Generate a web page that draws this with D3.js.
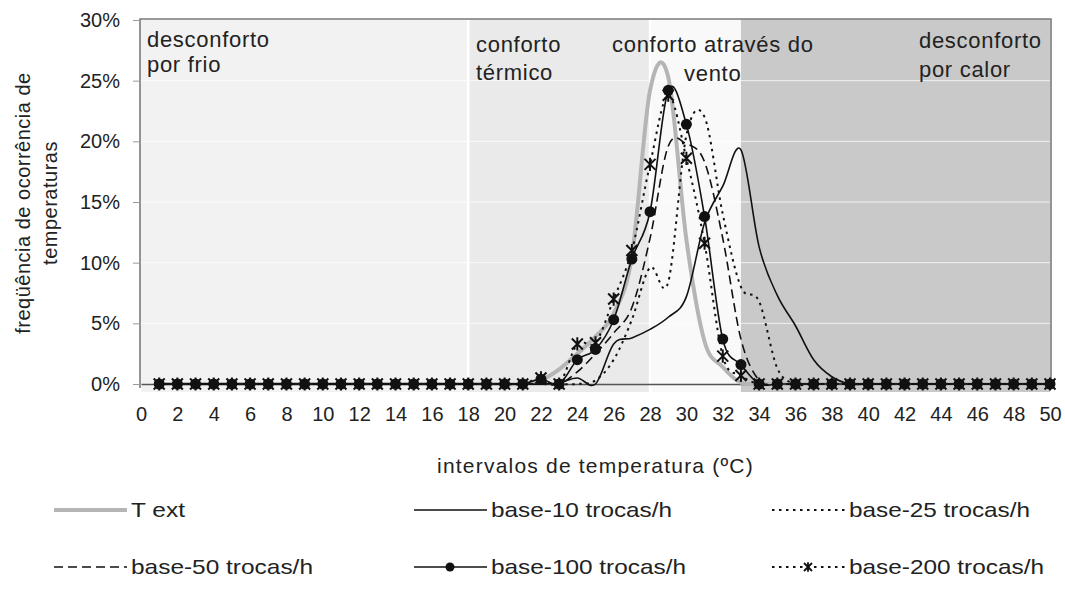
<!DOCTYPE html>
<html>
<head>
<meta charset="utf-8">
<script src="https://cdn.jsdelivr.net/npm/d3@7"></script>
<style>
  html, body { margin: 0; padding: 0; background: #fff; }
  svg { display: block; font-family: "Liberation Sans", Arial, sans-serif; }
</style>
</head>
<body>
<svg id="chart" width="1065" height="606"></svg>
<script>
// Temperature classes (ºC)
const temps = [1,2,3,4,5,6,7,8,9,10,11,12,13,14,15,16,17,18,19,20,21,22,23,24,25,
               26,27,28,29,30,31,32,33,34,35,36,37,38,39,40,41,42,43,44,45,46,47,48,49,50];

// Frequency of occurrence (%) per temperature class
const tExt    = [0,0,0,0,0,0,0,0,0,0,0,0,0,0,0,0,0,0,0,0,0,0.3,1.2,2.5,3.9,
                 5.8,10.5,24.2,25.3,11.9,3.5,1.4,0.1,0,0,0,0,0,0,0,0,0,0,0,0,0,0,0,0,0];
const base10  = [0,0,0,0,0,0,0,0,0,0,0,0,0,0,0,0,0,0,0,0,0,0,0.1,0.5,0,
                 3.3,3.8,4.5,5.5,7.2,13.3,16.3,19.3,11.3,7.3,4.8,2.0,0.6,0,0,0,0,0,0,0,0,0,0,0,0];
const base25  = [0,0,0,0,0,0,0,0,0,0,0,0,0,0,0,0,0,0,0,0,0,0,0,0,0.3,
                 2.0,5.3,9.6,8.4,20.5,22.0,14.0,8.0,6.8,1.3,0,0,0,0,0,0,0,0,0,0,0,0,0,0,0];
const base50  = [0,0,0,0,0,0,0,0,0,0,0,0,0,0,0,0,0,0,0,0,0,0,0,1.0,2.5,
                 4.2,6.3,12.0,19.6,19.8,18.3,12.0,3.7,0.3,0,0,0,0,0,0,0,0,0,0,0,0,0,0,0,0];
const base100 = [0,0,0,0,0,0,0,0,0,0,0,0,0,0,0,0,0,0,0,0,0,0.4,0,2.0,2.85,
                 5.3,10.3,14.2,24.2,21.4,13.8,3.7,1.6,0,0,0,0,0,0,0,0,0,0,0,0,0,0,0,0,0];
const base200 = [0,0,0,0,0,0,0,0,0,0,0,0,0,0,0,0,0,0,0,0,0,0.5,0,3.3,3.4,
                 7.0,11.0,18.1,23.8,18.6,11.6,2.3,0.7,0,0,0,0,0,0,0,0,0,0,0,0,0,0,0,0,0];

const seriesNames = ["T ext", "base-10 trocas/h", "base-25 trocas/h",
                     "base-50 trocas/h", "base-100 trocas/h", "base-200 trocas/h"];

// Comfort zones along the temperature axis
const zoneNames  = [["desconforto", "por frio"], ["conforto", "térmico"],
                    ["conforto através do", "vento"], ["desconforto", "por calor"]];
const zoneLimits = [[0, 18], [18, 28], [28, 33], [33, 50]];

const xTicks = [0,2,4,6,8,10,12,14,16,18,20,22,24,26,28,30,32,34,36,38,40,42,44,46,48,50];
const yTicks = [0, 0.05, 0.10, 0.15, 0.20, 0.25, 0.30];

const xTitle = "intervalos de temperatura (ºC)";
const yTitle = ["freqüência de ocorrência de", "temperaturas"];

// ---------------------------------------------------------------------------
const svg = d3.select("#chart");
const plot = { left: 141, right: 1050, top: 20, bottom: 384 };

const x = d3.scaleLinear().domain([0, 50]).range([plot.left, plot.right]);
const y = d3.scaleLinear().domain([0, 0.30]).range([plot.bottom, plot.top]);

const zoneFill = ["#f2f2f2", "#eaeaea", "#f9f9f9", "#c9c9c9"];

// zone backgrounds
svg.append("g").selectAll("rect").data(zoneLimits).join("rect")
  .attr("x", d => x(d[0]))
  .attr("y", plot.top - 1)
  .attr("width", d => x(d[1]) - x(d[0]))
  .attr("height", plot.bottom - plot.top + 9)
  .attr("fill", (d, i) => zoneFill[i]);

// light separators between the left zones
svg.append("g").selectAll("line").data([18, 28]).join("line")
  .attr("x1", d => x(d)).attr("x2", d => x(d))
  .attr("y1", plot.top).attr("y2", plot.bottom + 8)
  .attr("stroke", "#ffffff").attr("stroke-width", 2.5);

// horizontal grid
svg.append("g").selectAll("line").data(yTicks.slice(1, -1)).join("line")
  .attr("x1", plot.left).attr("x2", plot.right)
  .attr("y1", d => y(d)).attr("y2", d => y(d))
  .attr("stroke", "#ffffff").attr("stroke-opacity", 0.75).attr("stroke-width", 1);

// frame
svg.append("path")
  .attr("d", `M${plot.left - 1},${plot.bottom + 4}V${plot.top - 1}H${plot.right + 1}V${plot.bottom + 4}`)
  .attr("fill", "none").attr("stroke", "#7a7a7a").attr("stroke-width", 1.6);

// y axis
const yAxis = svg.append("g").attr("transform", `translate(${plot.left - 1},0)`)
  .call(d3.axisLeft(y).tickValues(yTicks).tickFormat(d3.format(".0%")).tickSize(7).tickPadding(13));
yAxis.select(".domain").remove();
yAxis.selectAll(".tick line").attr("stroke", "#9a9a9a");
yAxis.selectAll(".tick text").attr("font-size", 20).attr("fill", "#222")
  .attr("font-family", "Liberation Sans, Arial, sans-serif");

// x axis
const xAxis = svg.append("g").attr("transform", `translate(0,${plot.bottom})`)
  .call(d3.axisBottom(x).tickValues(xTicks).tickSize(0).tickPadding(23));
xAxis.select(".domain").attr("stroke", "#555").attr("stroke-width", 1.5);
xAxis.selectAll(".tick text").attr("font-size", 20).attr("fill", "#222")
  .attr("font-family", "Liberation Sans, Arial, sans-serif");

// axis titles
svg.append("text")
  .attr("x", (plot.left + plot.right) / 2).attr("y", 473)
  .attr("text-anchor", "middle").attr("font-size", 21).attr("fill", "#222")
  .attr("letter-spacing", 1.2)
  .text(xTitle);

svg.append("g").attr("transform", "translate(30,203) rotate(-90)")
  .selectAll("text").data(yTitle).join("text")
  .attr("x", 0).attr("y", (d, i) => i * 27)
  .attr("text-anchor", "middle").attr("font-size", 20).attr("fill", "#222")
  .attr("letter-spacing", 0.5)
  .text(d => d);

// zone labels
const zoneLabelPos = [[147, 47, 72], [476, 52, 80], [612, 52, 81], [919, 48, 77]];
const zoneIndent = [[0, 0], [0, 0], [0, 72], [0, 0]];
zoneNames.forEach((lines, i) => {
  lines.forEach((t, j) => {
    svg.append("text")
      .attr("x", zoneLabelPos[i][0] + zoneIndent[i][j])
      .attr("y", zoneLabelPos[i][1 + j])
      .attr("font-size", 22).attr("fill", "#222").attr("letter-spacing", 0.7)
      .text(t);
  });
});

// series lines
const pts = vals => temps.map((t, i) => [t, vals[i] / 100]);
const line = d3.line().x(d => x(d[0])).y(d => y(d[1])).curve(d3.curveCardinal.tension(0));

const styles = [
  { data: tExt,    stroke: "#b5b5b5", width: 4,   dash: null },
  { data: base10,  stroke: "#111",    width: 1.6, dash: null },
  { data: base25,  stroke: "#111",    width: 2,   dash: "2.5,4.5" },
  { data: base50,  stroke: "#111",    width: 1.6, dash: "9,5" },
  { data: base100, stroke: "#111",    width: 1.6, dash: null },
  { data: base200, stroke: "#111",    width: 2,   dash: "2.5,4.5" }
];

const gLines = svg.append("g");
styles.forEach(s => {
  gLines.append("path")
    .attr("d", line(pts(s.data)))
    .attr("fill", "none")
    .attr("stroke", s.stroke)
    .attr("stroke-width", s.width)
    .attr("stroke-dasharray", s.dash)
    .attr("stroke-linejoin", "round");
});

// star marker (x with a vertical stroke)
const starPath = r => `M${-r},${-r}L${r},${r}M${-r},${r}L${r},${-r}M0,${-r * 1.2}L0,${r * 1.2}`;

svg.append("g").selectAll("path").data(pts(base200)).join("path")
  .attr("transform", d => `translate(${x(d[0])},${y(d[1])})`)
  .attr("d", starPath(5.5))
  .attr("stroke", "#111").attr("stroke-width", 2).attr("fill", "none");

svg.append("g").selectAll("circle").data(pts(base100)).join("circle")
  .attr("cx", d => x(d[0])).attr("cy", d => y(d[1])).attr("r", 5.5)
  .attr("fill", "#111");

// legend
const legendPos = [[54, 510], [414, 510], [772, 510], [54, 567], [414, 567], [772, 567]];
const legendTextLen = [54, 181, 181, 182, 195, 195];
const lg = svg.append("g");
styles.forEach((s, i) => {
  const [lx, ly] = legendPos[i];
  lg.append("line")
    .attr("x1", lx).attr("x2", lx + 73).attr("y1", ly).attr("y2", ly)
    .attr("stroke", s.stroke).attr("stroke-width", s.width)
    .attr("stroke-dasharray", s.dash);
  if (i === 4) {
    lg.append("circle").attr("cx", lx + 36).attr("cy", ly).attr("r", 4.5).attr("fill", "#111");
  }
  if (i === 5) {
    lg.append("path").attr("transform", `translate(${lx + 36},${ly})`)
      .attr("d", starPath(4)).attr("stroke", "#111").attr("stroke-width", 1.8).attr("fill", "none");
  }
  lg.append("text")
    .attr("x", lx + 77).attr("y", ly).attr("dy", "0.35em")
    .attr("font-size", 21).attr("fill", "#222")
    .attr("textLength", legendTextLen[i]).attr("lengthAdjust", "spacingAndGlyphs")
    .text(seriesNames[i]);
});
</script>
</body>
</html>
